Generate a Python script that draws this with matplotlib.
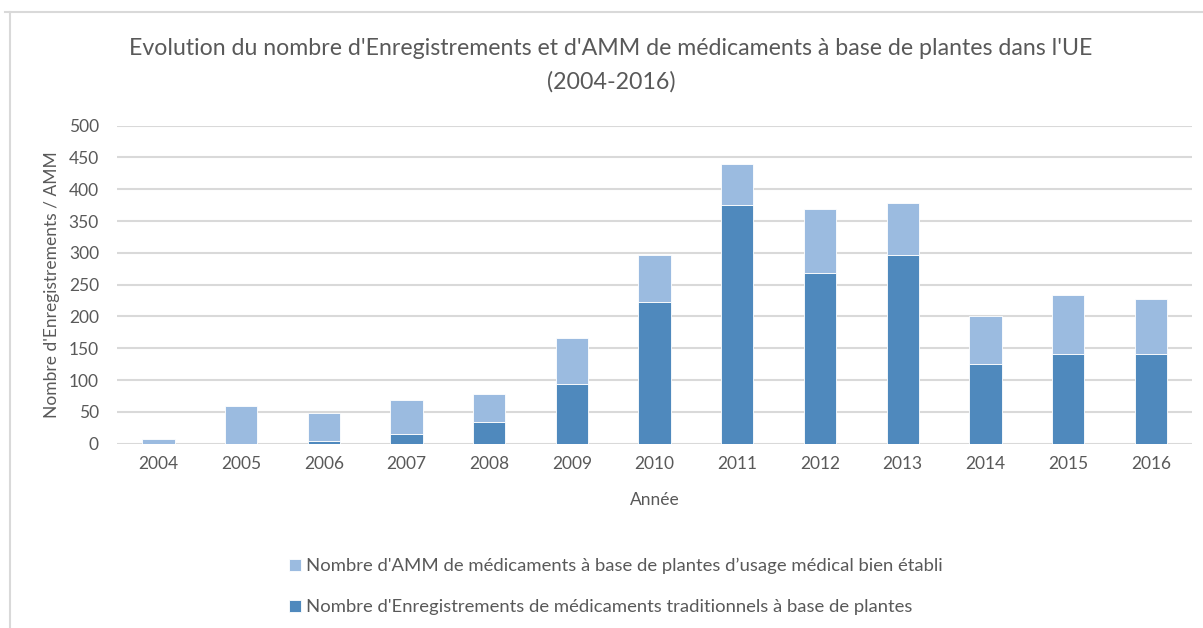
import matplotlib.pyplot as plt
from matplotlib.lines import Line2D
import numpy as np

plt.rcParams['font.family'] = ['Lato', 'DejaVu Sans']

years = ["2004", "2005", "2006", "2007", "2008", "2009", "2010",
         "2011", "2012", "2013", "2014", "2015", "2016"]
# enregistrements (usage traditionnel) - bas de la pile
enreg = [0, 0, 4, 16, 34, 94, 223, 375, 269, 296, 125, 141, 141]
# AMM usage medical bien etabli - haut de la pile
amm = [7, 59, 45, 52, 44, 72, 73, 65, 100, 83, 75, 92, 87]

label_amm = "Nombre d'AMM de médicaments à base de plantes d\u2019usage médical bien établi"
label_enreg = "Nombre d'Enregistrements de médicaments traditionnels à base de plantes"
title = ("Evolution du nombre d'Enregistrements et d'AMM de médicaments à base de plantes dans l'UE\n"
         "(2004-2016)")

dark = "#4F89BD"
light = "#9BBBE0"
txt = "#595959"
grid = "#D9D9D9"

fig = plt.figure(figsize=(12.03, 6.28), dpi=100)
ax = fig.add_axes([0.0973, 0.2935, 0.8937, 0.5065])

x = np.arange(len(years))
w = 0.39
b1 = ax.bar(x, enreg, w, color=dark, edgecolor="white", linewidth=0.6, zorder=3)
b2 = ax.bar(x, amm, w, bottom=enreg, color=light, edgecolor="white", linewidth=0.6, zorder=3)

ax.set_xlim(-0.5, len(years) - 0.5)
ax.set_ylim(0, 500)
ax.set_yticks(range(0, 501, 50))
ax.set_xticks(x)
ax.set_xticklabels(years)
ax.yaxis.grid(True, color=grid, linewidth=1.5, zorder=0)
ax.set_axisbelow(True)
for s in ax.spines.values():
    s.set_visible(False)
ax.tick_params(length=0, colors=txt, labelsize=12.5)
ax.tick_params(axis="y", pad=13)
ax.tick_params(axis="x", pad=9)

ax.set_xlabel("Année", color=txt, fontsize=12.5, labelpad=14)
ax.set_ylabel("Nombre d'Enregistrements / AMM", color=txt, fontsize=12.5, labelpad=6)

fig.text(0.508, 0.896, title, ha="center", va="center", color=txt,
         fontsize=16.7, linespacing=1.65)

leg = fig.legend([b2, b1], [label_amm, label_enreg], loc="upper left",
                 bbox_to_anchor=(0.226, 0.138), frameon=False, fontsize=13.3,
                 handlelength=0.65, handleheight=0.65, handletextpad=0.3,
                 labelspacing=1.35, labelcolor=txt)

# cadre du graphique
fig.add_artist(Line2D([0.004, 1.0], [0.981, 0.981], color=grid, linewidth=1.5))
fig.add_artist(Line2D([0.0085, 0.0085], [0.0, 0.981], color=grid, linewidth=1.5))

fig.savefig("out.png", dpi=100)
